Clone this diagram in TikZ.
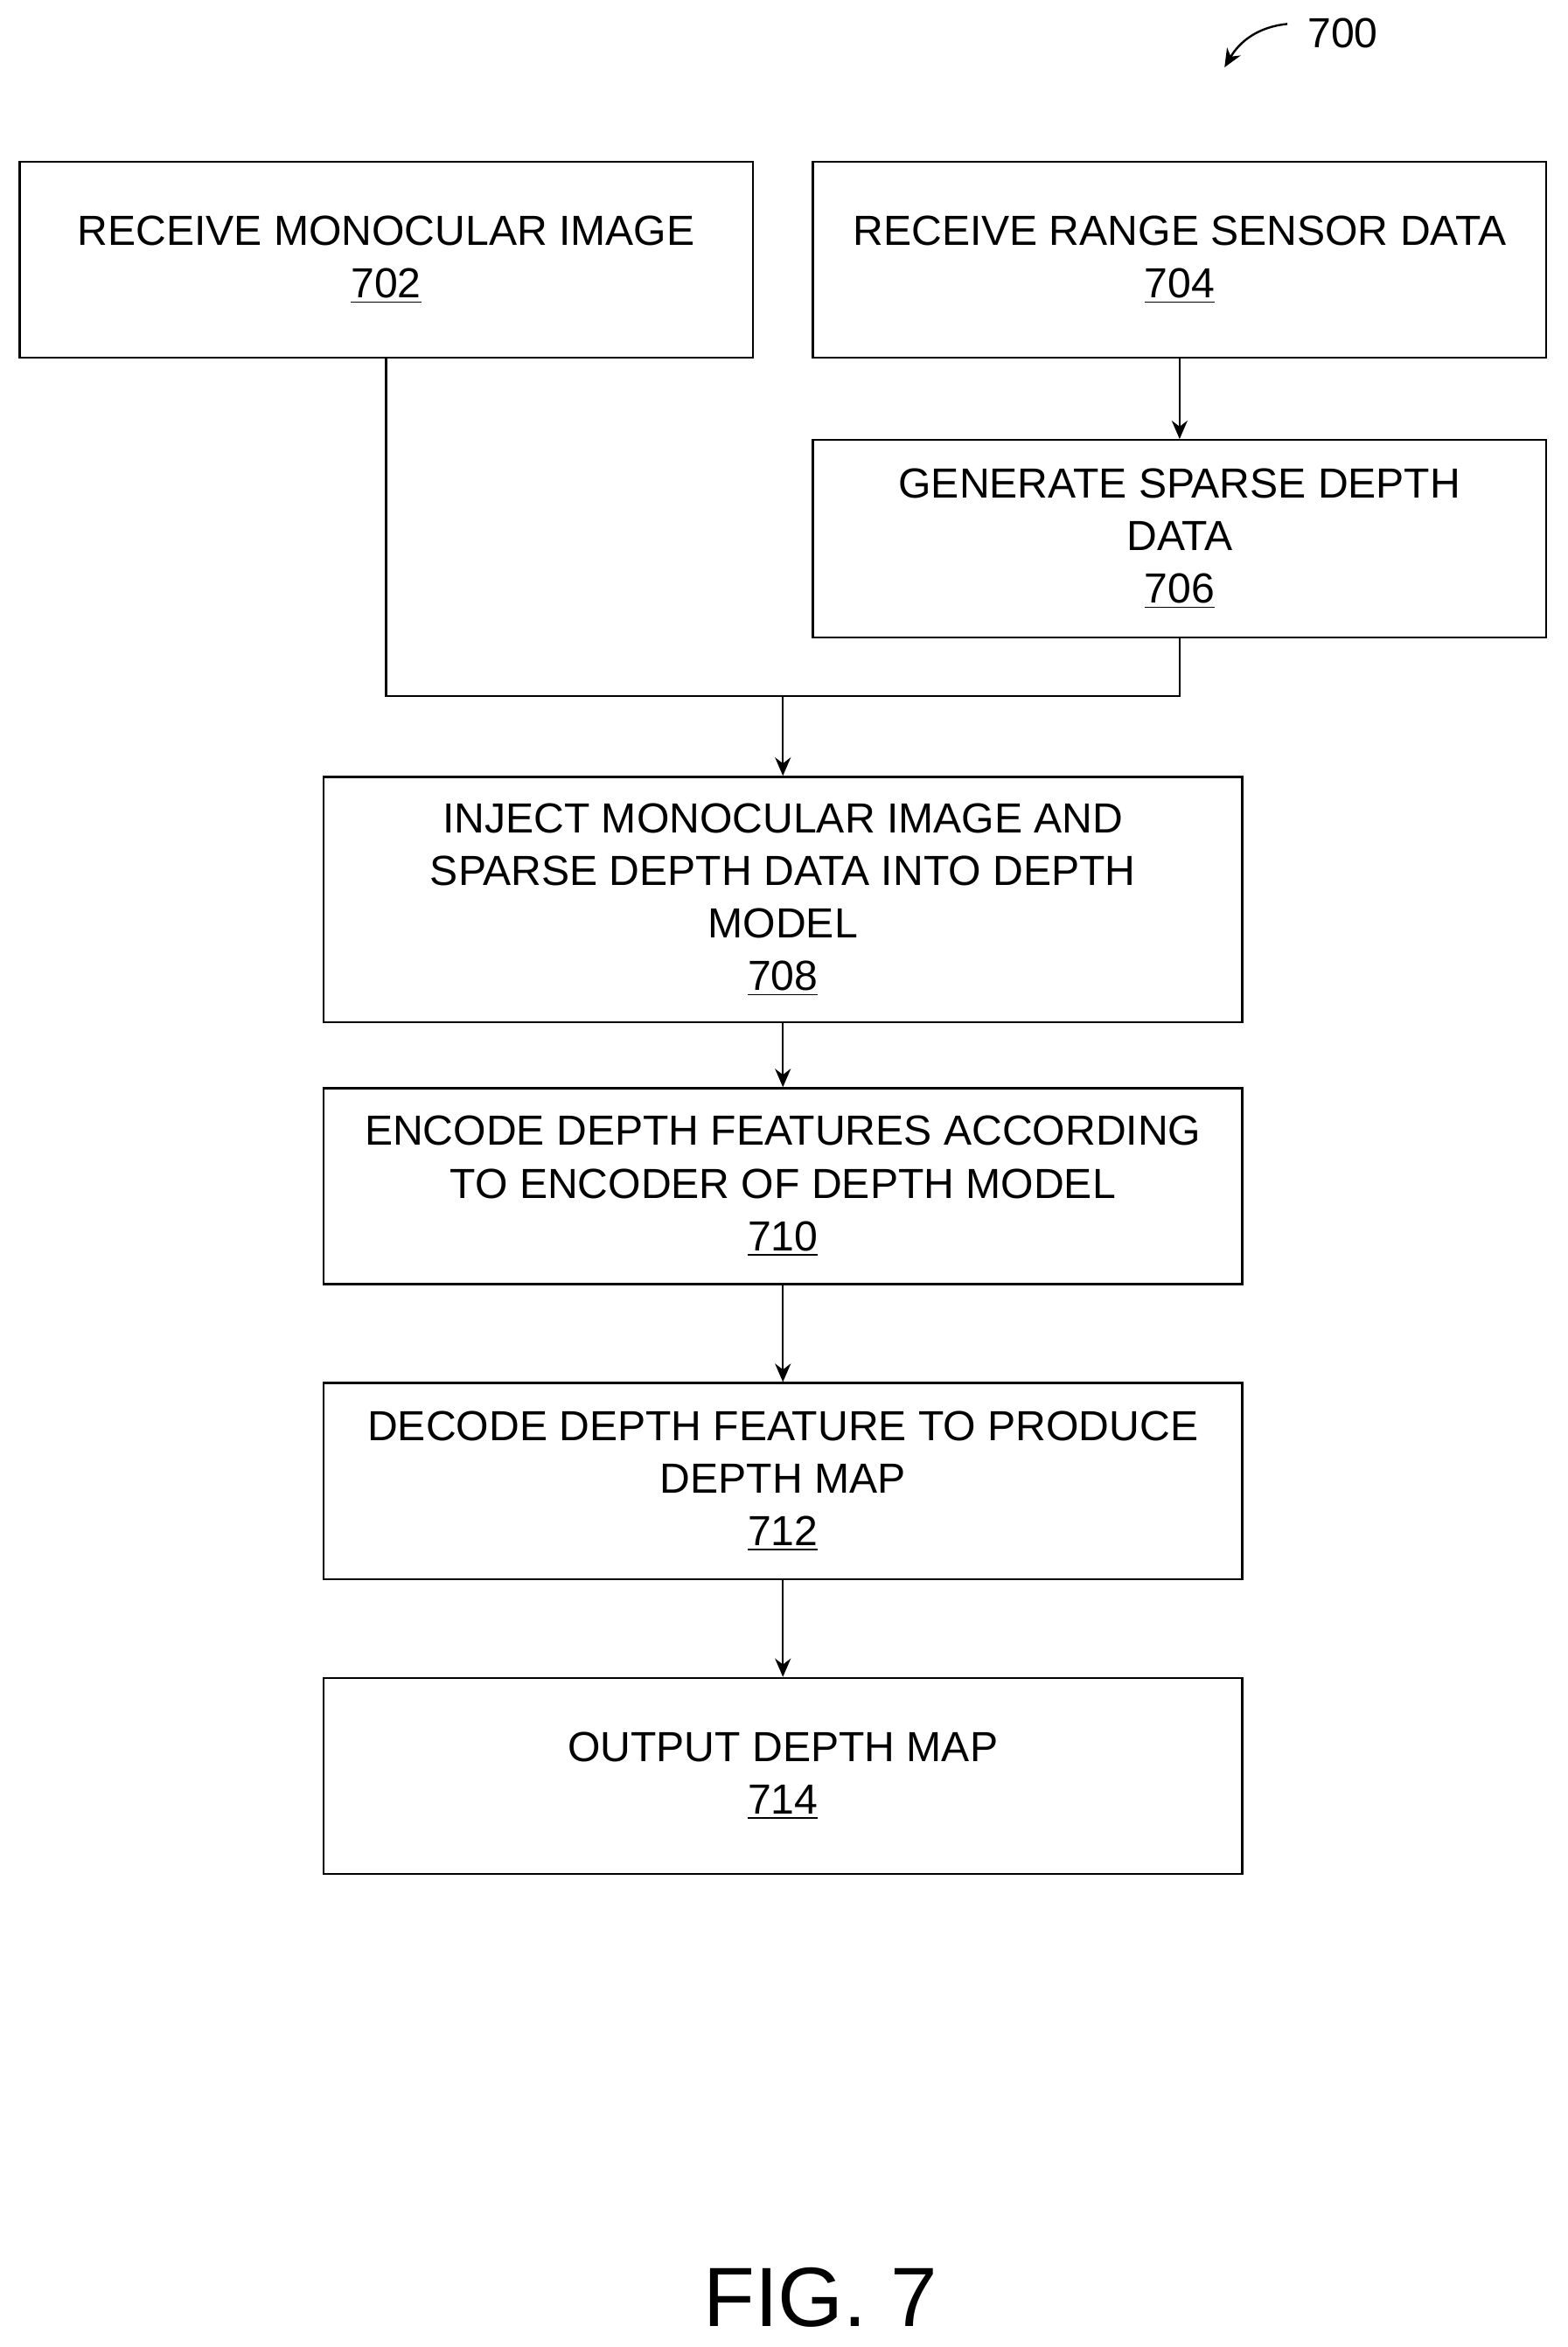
\documentclass[tikz,border=0pt]{standalone}
\usepackage{fontspec}
\setmainfont{Liberation Sans}
\usetikzlibrary{arrows.meta}
\tikzset{b/.style={draw,thick,align=center,font=\fontsize{16}{20}\selectfont,inner sep=0pt}}
\tikzset{w/.style={minimum width=9.8cm,minimum height=2.62cm}}
\tikzset{n/.style={minimum width=12.28cm}}
\tikzset{a/.style={thick,-{Stealth[length=7pt,width=6pt]}}}
\begin{document}
\begin{tikzpicture}[x=0.02cm,y=-0.02cm]
        \useasboundingbox (0,0) rectangle (1047,1568);
        \node[b,w] (A) at (258,173.5) {RECEIVE MONOCULAR IMAGE\\\underline{702}};
        \node[b,w] (B) at (788,173.5) {RECEIVE RANGE SENSOR DATA\\\underline{704}};
        \node[b,w,minimum height=2.64cm] (C) at (788,360) {GENERATE SPARSE DEPTH\\DATA\\\underline{706}};
        \node[b,n,minimum height=3.28cm] (D) at (523,601) {INJECT MONOCULAR IMAGE AND\\SPARSE DEPTH DATA INTO DEPTH\\MODEL\\\underline{708}};
        \node[b,n,minimum height=2.62cm] (E) at (523,792.5) {ENCODE DEPTH FEATURES ACCORDING\\TO ENCODER OF DEPTH MODEL\\\underline{710}};
        \node[b,n,minimum height=2.62cm] (F) at (523,989.5) {DECODE DEPTH FEATURE TO PRODUCE\\DEPTH MAP\\\underline{712}};
        \node[b,n,minimum height=2.62cm] (G) at (523,1186.5) {OUTPUT DEPTH MAP\\\underline{714}};
        \coordinate (J) at (523,465);
        \draw[thick] (A.south) |- (J) -| (C.south);
        \draw[a] (B) -- (C);
        \draw[a] (J) -- (D);
        \draw[a] (D) -- (E);
        \draw[a] (E) -- (F);
        \draw[a] (F) -- (G);
        \node[font=\fontsize{16}{16}\selectfont] (L) at (897,22) {700};
        \draw[a] (860,16) .. controls (840,18) and (828,28) .. (818,45);
        \node[font=\fontsize{32}{32}\selectfont] (H) at (548,1535) {FIG. 7};
\end{tikzpicture}
\end{document}
